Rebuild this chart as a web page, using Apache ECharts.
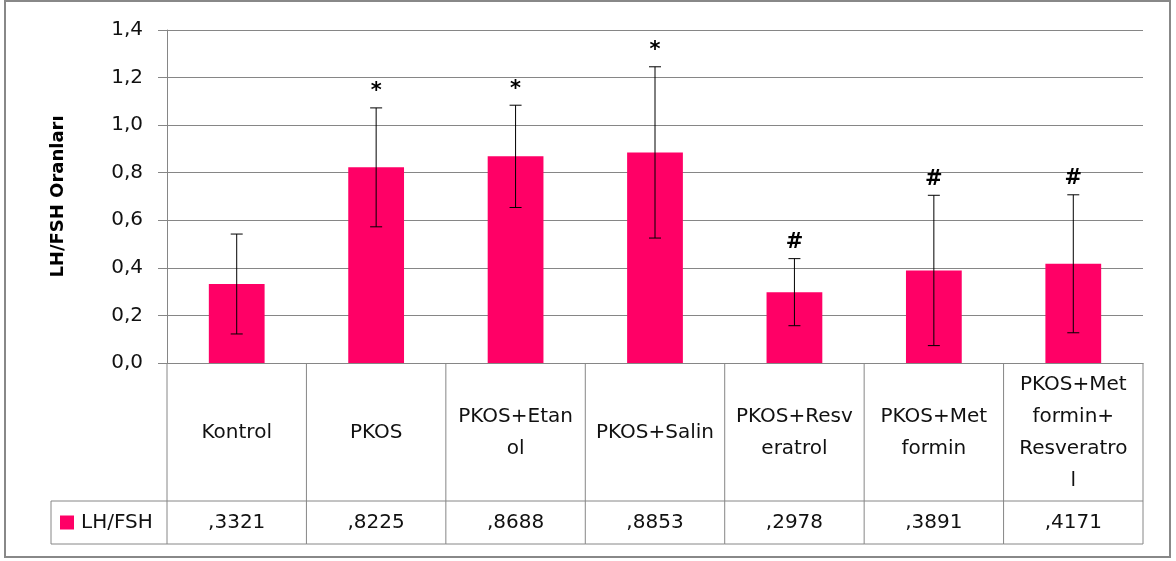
<!DOCTYPE html>
<html><head><meta charset="utf-8">
<script src="https://cdn.jsdelivr.net/npm/echarts/dist/echarts.min.js"></script>
<style>html,body{margin:0;padding:0;background:#fff}#c{width:1176px;height:561px}</style>
</head><body><div id="c"></div>
<script>
const categories = ['Kontrol','PKOS','PKOS+Etanol','PKOS+Salin','PKOS+Resveratrol','PKOS+Metformin','PKOS+Metformin+Resveratrol'];
const tableLabels = ['Kontrol','PKOS','PKOS+Etan\nol','PKOS+Salin','PKOS+Resv\neratrol','PKOS+Met\nformin','PKOS+Met\nformin+\nResveratro\nl'];
const values = [0.3321, 0.8225, 0.8688, 0.8853, 0.2978, 0.3891, 0.4171];
const valueLabels = [',3321', ',8225', ',8688', ',8853', ',2978', ',3891', ',4171'];
const errors = [0.21, 0.25, 0.215, 0.36, 0.141, 0.316, 0.29];
const marks = ['', '*', '*', '*', '#', '#', '#'];
const seriesName = 'LH/FSH';
const yAxisTitle = 'LH/FSH Oranları';
const yMin = 0, yMax = 1.4, yStep = 0.2;

const FONT = '"DejaVu Sans", "Noto Sans", sans-serif';
const barColor = '#FF0066';
const lineColor = '#868686';

function renderTable(params, api) {
  const i = api.value(0);
  const p = api.coord([i, 0]);
  const w = api.size([1, 0])[0];
  const cx = p[0], y0 = p[1];
  const l = cx - w / 2, r = cx + w / 2;
  const h1 = 138, h2 = 43;
  const ls = {stroke: lineColor, lineWidth: 1};
  const ch = [
    {type: 'line', shape: {x1: r, y1: y0, x2: r, y2: y0 + h1 + h2}, style: ls},
    {type: 'line', shape: {x1: l, y1: y0 + h1, x2: r, y2: y0 + h1}, style: ls},
    {type: 'line', shape: {x1: l, y1: y0 + h1 + h2, x2: r, y2: y0 + h1 + h2}, style: ls},
    {type: 'text', style: {text: tableLabels[i], x: cx, y: y0 + h1 / 2 + 1, align: 'center', verticalAlign: 'middle',
      font: '20px ' + FONT, lineHeight: 32, fill: '#111'}},
    {type: 'text', style: {text: valueLabels[i], x: cx, y: y0 + h1 + h2 / 2, align: 'center', verticalAlign: 'middle',
      font: '20px ' + FONT, fill: '#111'}}
  ];
  if (i === 0) {
    const lx = l - 116;
    ch.push(
      {type: 'line', shape: {x1: l, y1: y0, x2: l, y2: y0 + h1 + h2}, style: ls},
      {type: 'line', shape: {x1: lx, y1: y0 + h1, x2: l, y2: y0 + h1}, style: ls},
      {type: 'line', shape: {x1: lx, y1: y0 + h1 + h2, x2: l, y2: y0 + h1 + h2}, style: ls},
      {type: 'line', shape: {x1: lx, y1: y0 + h1, x2: lx, y2: y0 + h1 + h2}, style: ls},
      {type: 'rect', shape: {x: lx + 9, y: y0 + h1 + h2 / 2 - 7, width: 14, height: 14}, style: {fill: barColor}},
      {type: 'text', style: {text: seriesName, x: lx + 30, y: y0 + h1 + h2 / 2, align: 'left', verticalAlign: 'middle',
        font: '20px ' + FONT, fill: '#111'}}
    );
  }
  return {type: 'group', children: ch};
}

function renderErr(params, api) {
  const i = api.value(0), v = api.value(1), e = api.value(2);
  const top = api.coord([i, v + e]), bot = api.coord([i, v - e]);
  const cap = 6;
  const ls = {stroke: '#000', lineWidth: 1};
  const ch = [
    {type: 'line', shape: {x1: top[0], y1: top[1], x2: bot[0], y2: bot[1]}, style: ls},
    {type: 'line', shape: {x1: top[0] - cap, y1: top[1], x2: top[0] + cap, y2: top[1]}, style: ls},
    {type: 'line', shape: {x1: bot[0] - cap, y1: bot[1], x2: bot[0] + cap, y2: bot[1]}, style: ls}
  ];
  if (marks[i]) {
    ch.push({type: 'text', style: {text: marks[i], x: top[0], y: top[1] - 16, align: 'center', verticalAlign: 'middle',
      font: 'bold 21px ' + FONT, fill: '#000'}});
  }
  return {type: 'group', children: ch};
}

const chart = echarts.init(document.getElementById('c'), null, {renderer: 'canvas'});
chart.setOption({
  animation: false,
  backgroundColor: '#fff',
  grid: {left: 167, right: 33, top: 30, bottom: 198},
  graphic: [{type: 'rect', shape: {x: 5, y: 1, width: 1165, height: 556},
    style: {fill: 'none', stroke: '#888', lineWidth: 2}, silent: true}],
  xAxis: {
    type: 'category', data: categories,
    axisLine: {show: true, lineStyle: {color: lineColor}},
    axisTick: {show: false}, axisLabel: {show: false}, splitLine: {show: false}
  },
  yAxis: {
    type: 'value', min: yMin, max: yMax, interval: yStep,
    name: yAxisTitle, nameLocation: 'middle', nameGap: 100, nameRotate: 90,
    nameTextStyle: {fontFamily: FONT, fontWeight: 'bold', fontSize: 18, color: '#000'},
    axisLine: {show: true, lineStyle: {color: lineColor}},
    axisTick: {show: true, length: 9, lineStyle: {color: lineColor}},
    axisLabel: {margin: 24, fontFamily: FONT, fontSize: 20, color: '#111',
      formatter: v => v.toFixed(1).replace('.', ',')},
    splitLine: {show: true, lineStyle: {color: lineColor, width: 1}}
  },
  series: [
    {type: 'bar', name: seriesName, data: values, barWidth: '40%', itemStyle: {color: barColor}, silent: true},
    {type: 'custom', renderItem: renderErr, data: values.map((v, i) => [i, v, errors[i]]),
      encode: {x: 0, y: 1}, clip: false, silent: true, z: 5},
    {type: 'custom', renderItem: renderTable, data: categories.map((c, i) => [i, 0]),
      encode: {x: 0, y: 1}, clip: false, silent: true, z: 5}
  ]
});
</script>
</body></html>
